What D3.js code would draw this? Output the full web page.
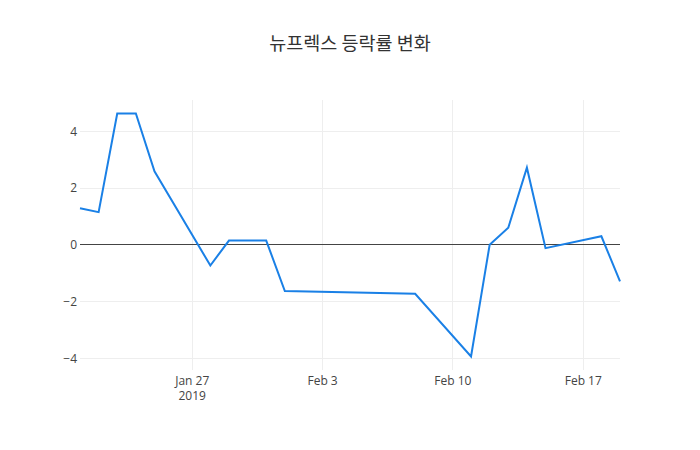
<!DOCTYPE html>
<html>
<head>
<meta charset="utf-8">
<script src="https://cdn.jsdelivr.net/npm/d3@7"></script>
<style>
  body { margin: 0; background: #fff; }
  svg { display: block; font-family: "Open Sans", "Noto Sans CJK KR", sans-serif; }
</style>
</head>
<body>
<svg width="700" height="450"></svg>
<script>
const dates = ['2019-01-21','2019-01-22','2019-01-23','2019-01-24','2019-01-25',
  '2019-01-28','2019-01-29','2019-01-30','2019-01-31','2019-02-01',
  '2019-02-08','2019-02-11','2019-02-12','2019-02-13','2019-02-14','2019-02-15',
  '2019-02-18','2019-02-19']
const rates = [1.29, 1.15, 4.63, 4.63, 2.59,
  -0.73, 0.15, 0.15, 0.15, -1.63,
  -1.73, -3.94, 0.0, 0.6, 2.72, -0.12,
  0.3, -1.29]
const yTicks = [-4, -2, 0, 2, 4]
const xTicks = ['2019-01-27','2019-02-03','2019-02-10','2019-02-17']
const title = '뉴프렉스 등락률 변화'

const parse = d3.timeParse('%Y-%m-%d')
const data = dates.map((d, i) => ({date: parse(d), v: rates[i]}))

const svg = d3.select('svg')
const width = +svg.attr('width')
const height = +svg.attr('height')
const margin = {top: 100, right: 80, bottom: 80, left: 80}
const w = width - margin.left - margin.right
const h = height - margin.top - margin.bottom

const x = d3.scaleTime()
    .domain(d3.extent(data, d => d.date))
    .range([0, w])

const [ymin, ymax] = d3.extent(rates)
const pad = (ymax - ymin) / 0.9 * 0.05
const y = d3.scaleLinear()
    .domain([ymin - pad, ymax + pad])
    .range([h, 0])

const g = svg.append('g')
    .attr('transform', `translate(${margin.left}, ${margin.top})`)

// grid
g.append('g').selectAll('line')
    .data(xTicks.map(parse))
    .join('line')
    .attr('x1', d => Math.round(x(d)) + 0.5).attr('x2', d => Math.round(x(d)) + 0.5)
    .attr('y1', 0).attr('y2', h)
    .attr('stroke', '#eee')
g.append('g').selectAll('line')
    .data(yTicks.filter(d => d !== 0))
    .join('line')
    .attr('x1', 0).attr('x2', w)
    .attr('y1', d => Math.round(y(d)) + 0.5).attr('y2', d => Math.round(y(d)) + 0.5)
    .attr('stroke', '#eee')

// zero line
g.append('line')
    .attr('x1', 0).attr('x2', w)
    .attr('y1', Math.round(y(0)) - 0.5).attr('y2', Math.round(y(0)) - 0.5)
    .attr('stroke', '#444')
    .attr('stroke-width', 1)

// y axis labels
const yAxis = g.append('g')
    .call(d3.axisLeft(y).tickValues(yTicks).tickSize(0).tickPadding(3))
yAxis.select('.domain').remove()
yAxis.selectAll('text')
    .attr('fill', '#444')
    .style('font-size', '12px')
    .style('font-family', '"Open Sans", sans-serif')

// x axis labels
const fmt = d3.timeFormat('%b %-d')
const xAxis = g.append('g')
    .attr('transform', `translate(0, ${h})`)
    .call(d3.axisBottom(x).tickValues(xTicks.map(parse)).tickSize(0).tickPadding(6).tickFormat(fmt))
xAxis.select('.domain').remove()
xAxis.selectAll('text')
    .attr('fill', '#444')
    .style('font-size', '12px')
    .style('font-family', '"Open Sans", sans-serif')
xAxis.selectAll('.tick')
    .filter((d, i) => i === 0)
    .select('text')
    .append('tspan')
    .attr('x', 0)
    .attr('dy', '1.33em')
    .text('2019')

// line
const line = d3.line()
    .x(d => x(d.date))
    .y(d => y(d.v))
g.append('path')
    .datum(data)
    .attr('d', line)
    .attr('fill', 'none')
    .attr('stroke', '#1a80e6')
    .attr('stroke-width', 2)
    .attr('stroke-linejoin', 'miter')

// title
svg.append('text')
    .attr('x', width / 2)
    .attr('y', 50)
    .attr('text-anchor', 'middle')
    .attr('fill', '#333')
    .style('font-size', '18.5px')
    .style('font-family', '"Noto Sans CJK KR", "Open Sans", sans-serif')
    .text(title)
</script>
</body>
</html>
